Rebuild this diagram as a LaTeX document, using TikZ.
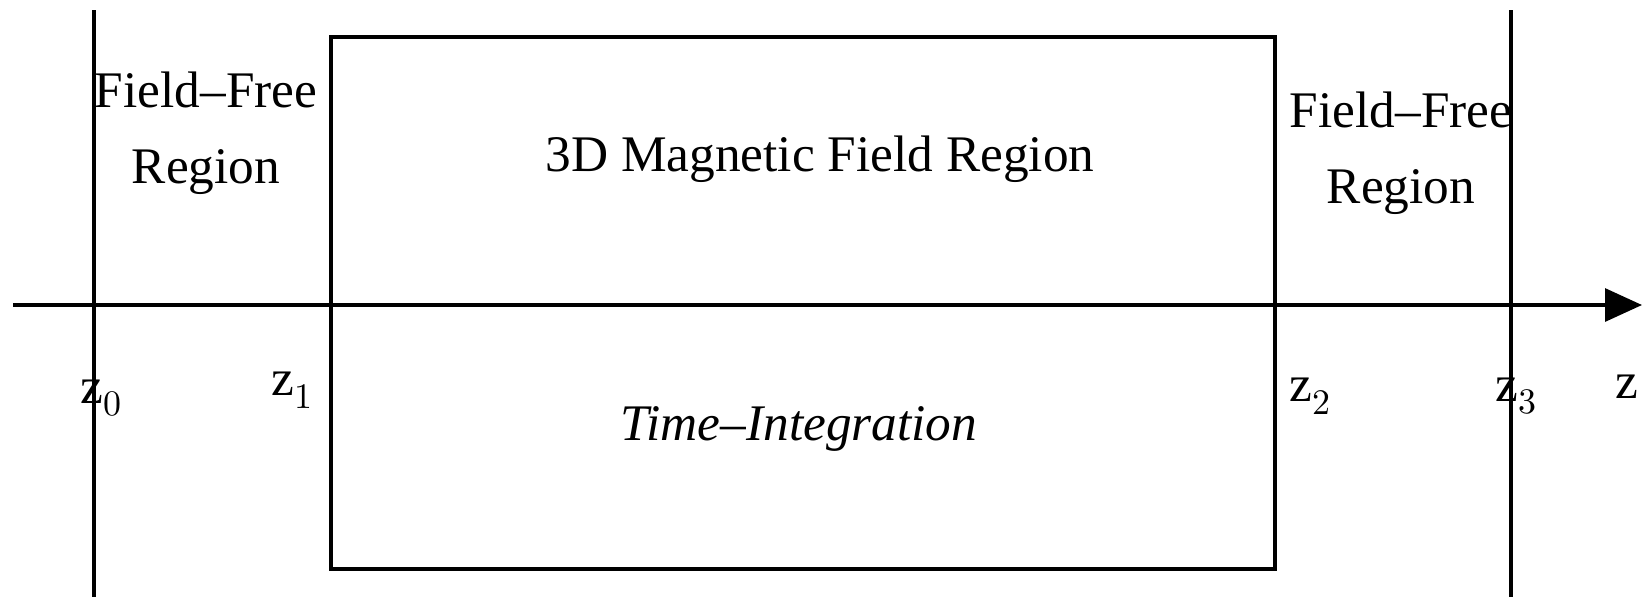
\documentclass[tikz,border=0pt]{standalone}
\usepackage{fontspec}
\setmainfont{Liberation Serif}
\usepackage{unicode-math}
\setmathfont{Latin Modern Math}
\usetikzlibrary{arrows.meta, calc}

\begin{document}
\begin{tikzpicture}[>={Triangle[length=3.7mm, width=3.3mm]}, line width=0.9pt, every node/.style={font=\fontsize{14.6}{21.5}\selectfont}]
  \useasboundingbox (0,0) rectangle (16.42,-5.97);
  % axis and region boundaries
  \coordinate (axisstart) at (0.13,-3.05);
  \coordinate (axisend) at (16.42,-3.05);
  \coordinate (z0top) at (0.94,-0.10);
  \coordinate (z0bot) at (0.94,-5.97);
  \coordinate (z3top) at (15.11,-0.10);
  \coordinate (z3bot) at (15.11,-5.97);
  \draw[->] (axisstart) -- (axisend);
  \draw (z0top) -- (z0bot);
  \draw (z3top) -- (z3bot);
  \node[draw, line width=0.9pt, minimum width=9.44cm, minimum height=5.32cm, inner sep=0pt] (fieldbox) at (8.03,-3.03) {};
  % region labels
  \node[align=center] (freeleft) at (2.06,-1.33) {Field–Free\\Region};
  \node[align=center] (freeright) at (14.01,-1.53) {Field–Free\\Region};
  \node (magfield) at (8.20,-1.59) {3D Magnetic Field Region};
  \node (timeint) at (7.99,-4.29) {\itshape Time–Integration};
  % positions along z
  \node (z0) at (1.02,-3.98) {$\mathrm{z}_0$};
  \node (z1) at (2.93,-3.90) {$\mathrm{z}_1$};
  \node (z2) at (13.11,-3.96) {$\mathrm{z}_2$};
  \node (z3) at (15.17,-3.96) {$\mathrm{z}_3$};
  \node (zaxis) at (16.27,-3.87) {$\mathrm{z}$};
\end{tikzpicture}
\end{document}
